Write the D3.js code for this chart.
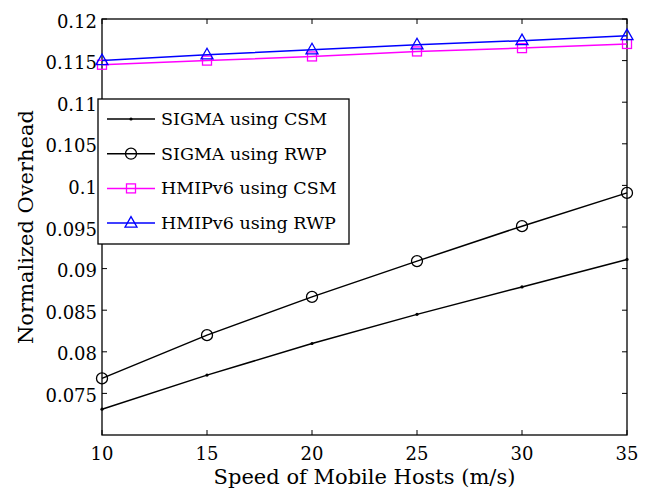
<!DOCTYPE html>
<html>
<head>
<meta charset="utf-8">
<script src="https://cdn.jsdelivr.net/npm/d3@7"></script>
<style>
  body { margin: 0; background: #fff; }
  svg text { font-family: "DejaVu Serif", "Liberation Serif", serif; fill: #000; }
</style>
</head>
<body>
<svg id="chart" width="649" height="494"></svg>
<script>
const speeds = [10, 15, 20, 25, 30, 35];
const sigmaCsm = [0.0731, 0.0772, 0.0810, 0.0845, 0.0878, 0.0911];
const sigmaRwp = [0.0768, 0.0820, 0.0866, 0.0909, 0.0951, 0.0991];
const hmipCsm = [0.1145, 0.1150, 0.1155, 0.1161, 0.1165, 0.1170];
const hmipRwp = [0.1150, 0.1157, 0.1163, 0.1169, 0.1174, 0.1180];
const xTicks = [10, 15, 20, 25, 30, 35];
const yTicks = [0.075, 0.08, 0.085, 0.09, 0.095, 0.1, 0.105, 0.11, 0.115, 0.12];
const yTickLabels = ['0.075', '0.08', '0.085', '0.09', '0.095', '0.1', '0.105', '0.11', '0.115', '0.12'];

const series = [
  { name: 'SIGMA using CSM', values: sigmaCsm, color: '#000', marker: 'dot' },
  { name: 'SIGMA using RWP', values: sigmaRwp, color: '#000', marker: 'circle' },
  { name: 'HMIPv6 using CSM', values: hmipCsm, color: '#ff00ff', marker: 'square' },
  { name: 'HMIPv6 using RWP', values: hmipRwp, color: '#0000ff', marker: 'triangle' }
];

const svg = d3.select('#chart');
const plotLeft = 102, plotRight = 627, plotTop = 19, plotBottom = 435;

const x = d3.scaleLinear().domain([10, 35]).range([plotLeft, plotRight]);
const y = d3.scaleLinear().domain([0.07, 0.12]).range([plotBottom, plotTop]);

// ticks (inward, on all four sides like MATLAB box)
const tickLen = 5;
const g = svg.append('g');
xTicks.forEach(t => {
  g.append('line').attr('x1', x(t)).attr('x2', x(t)).attr('y1', plotBottom).attr('y2', plotBottom - tickLen)
    .attr('stroke', '#000').attr('stroke-width', 1);
  g.append('line').attr('x1', x(t)).attr('x2', x(t)).attr('y1', plotTop).attr('y2', plotTop + tickLen)
    .attr('stroke', '#000').attr('stroke-width', 1);
  g.append('text').attr('x', x(t)).attr('y', 460).attr('text-anchor', 'middle')
    .attr('font-size', 18).text(t);
});
yTicks.forEach((t, i) => {
  g.append('line').attr('x1', plotLeft).attr('x2', plotLeft + tickLen).attr('y1', y(t)).attr('y2', y(t))
    .attr('stroke', '#000').attr('stroke-width', 1);
  g.append('line').attr('x1', plotRight).attr('x2', plotRight - tickLen).attr('y1', y(t)).attr('y2', y(t))
    .attr('stroke', '#000').attr('stroke-width', 1);
  g.append('text').attr('x', 97).attr('y', y(t) + 8.5).attr('text-anchor', 'end')
    .attr('font-size', 18).text(yTickLabels[i]);
});

svg.append('rect').attr('x', plotLeft).attr('y', plotTop)
  .attr('width', plotRight - plotLeft).attr('height', plotBottom - plotTop)
  .attr('fill', 'none').attr('stroke', '#000').attr('stroke-width', 1.3);

// axis titles
svg.append('text').attr('x', x(22.5)).attr('y', 484).attr('text-anchor', 'middle')
  .attr('font-size', 21).text('Speed of Mobile Hosts (m/s)');
svg.append('text').attr('transform', `translate(33,${(plotTop + plotBottom) / 2}) rotate(-90)`)
  .attr('text-anchor', 'middle').attr('font-size', 21).text('Normalized Overhead');

function drawMarker(sel, type, color, cx, cy) {
  if (type === 'dot') {
    sel.append('circle').attr('cx', cx).attr('cy', cy).attr('r', 1.6).attr('fill', color);
  } else if (type === 'circle') {
    sel.append('circle').attr('cx', cx).attr('cy', cy).attr('r', 5.5)
      .attr('fill', 'none').attr('stroke', color).attr('stroke-width', 1.3);
  } else if (type === 'square') {
    sel.append('rect').attr('x', cx - 4.5).attr('y', cy - 4.5).attr('width', 9).attr('height', 9)
      .attr('fill', 'none').attr('stroke', color).attr('stroke-width', 1.3);
  } else if (type === 'triangle') {
    sel.append('path').attr('d', `M${cx},${cy - 6.5}L${cx + 6},${cy + 4}L${cx - 6},${cy + 4}Z`)
      .attr('fill', 'none').attr('stroke', color).attr('stroke-width', 1.3);
  }
}

const line = d3.line().x((d, i) => x(speeds[i])).y(d => y(d));
series.forEach(s => {
  svg.append('path').datum(s.values).attr('d', line)
    .attr('fill', 'none').attr('stroke', s.color).attr('stroke-width', 1.5);
  s.values.forEach((v, i) => drawMarker(svg, s.marker, s.color, x(speeds[i]), y(v)));
});

// legend
const lg = svg.append('g');
lg.append('rect').attr('x', 98).attr('y', 99).attr('width', 251).attr('height', 145)
  .attr('fill', '#fff').attr('stroke', '#000').attr('stroke-width', 1.3);
series.forEach((s, i) => {
  const ly = 119 + i * 34.7;
  lg.append('line').attr('x1', 107).attr('x2', 155).attr('y1', ly).attr('y2', ly)
    .attr('stroke', s.color).attr('stroke-width', 1.5);
  drawMarker(lg, s.marker, s.color, 131, ly);
  lg.append('text').attr('x', 161).attr('y', ly + 6).attr('font-size', 17.5).text(s.name);
});
</script>
</body>
</html>
